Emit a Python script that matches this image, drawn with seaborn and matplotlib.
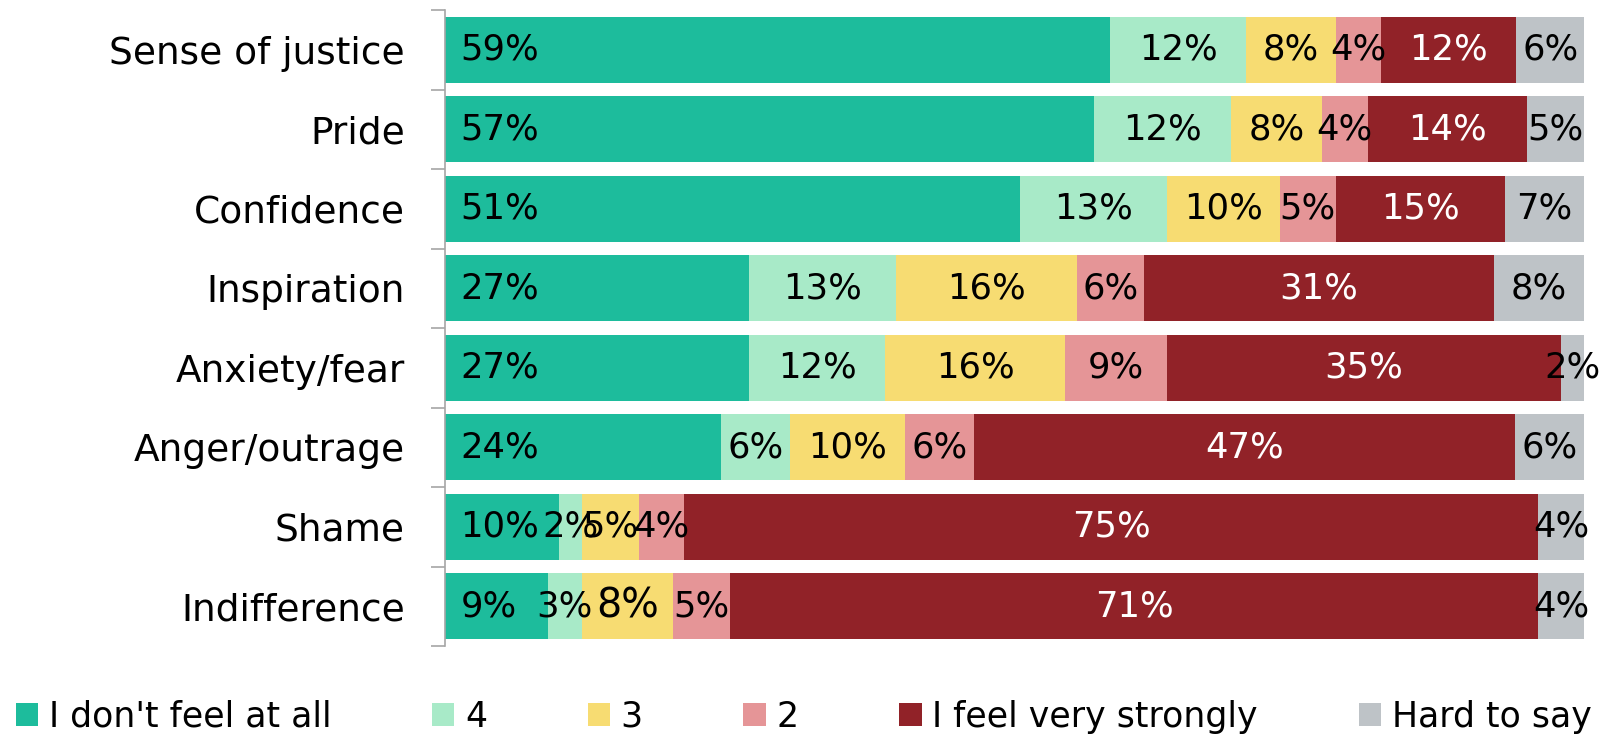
import numpy as np
import pandas as pd
import matplotlib
matplotlib.use('Agg')
import matplotlib.pyplot as plt
import seaborn as sns
from matplotlib.patches import Patch

#data
emotions = ['Sense of justice', 'Pride', 'Confidence', 'Inspiration',
            'Anxiety/fear', 'Anger/outrage', 'Shame', 'Indifference']
levels = ["I don't feel at all", '4', '3', '2', 'I feel very strongly', 'Hard to say']
not_at_all = [59, 57, 51, 27, 27, 24, 10, 9]
lvl4 = [12, 12, 13, 13, 12, 6, 2, 3]
lvl3 = [8, 8, 10, 16, 16, 10, 5, 8]
lvl2 = [4, 4, 5, 6, 9, 6, 4, 5]
very_strongly = [12, 14, 15, 31, 35, 47, 75, 71]
hard_to_say = [6, 5, 7, 8, 2, 6, 4, 4]
colors = ['#1DBC9C', '#A8EAC8', '#F7DC72', '#E59597', '#912228', '#BEC3C7']
text_colors = ['black', 'black', 'black', 'black', 'white', 'black']

sns.set_style('white')
plt.rcParams['font.family'] = ['DejaVu Sans']
plt.rcParams['text.color'] = 'black'
plt.rcParams['ytick.color'] = 'black'
plt.rcParams['ytick.labelcolor'] = 'black'

df = pd.DataFrame({'emotion': emotions})
series = [not_at_all, lvl4, lvl3, lvl2, very_strongly, hard_to_say]
for name, vals in zip(levels, series):
    df[name] = vals
vals = df[levels].to_numpy(dtype=float)
# 100% stacked
share = vals / vals.sum(axis=1, keepdims=True) * 100
cum = np.cumsum(share, axis=1)
for i, name in enumerate(levels):
    df['cum_' + name] = cum[:, i]

fig = plt.figure(figsize=(16.07, 7.39), dpi=100)
ax = fig.add_axes([445/1607, 1 - 646/739, (1584-445)/1607, (646-10)/739])

# draw from the full total down so earlier layers sit on top
for i in range(len(levels) - 1, -1, -1):
    sns.barplot(data=df, y='emotion', x='cum_' + levels[i], color=colors[i],
                orient='h', width=0.83, saturation=1, ax=ax, linewidth=0)

ax.set_xlim(0, 100)
ax.set_ylim(7.5, -0.5)
ax.set_xlabel('')
ax.set_ylabel('')
ax.set_xticks([])
sns.despine(ax=ax, left=False, bottom=True)
ax.spines['left'].set_color('#A6A6A6')
ax.spines['left'].set_linewidth(1.2)
ax.set_yticks(np.arange(-0.5, 8, 1), minor=True)
ax.tick_params(axis='y', which='minor', length=10, width=1.2, color='#A6A6A6', left=True)
ax.tick_params(axis='y', which='major', length=0, pad=29, labelsize=27, labelcolor='black')

# data labels
for r in range(len(emotions)):
    for i, name in enumerate(levels):
        start = cum[r, i] - share[r, i]
        fs = 25.5
        if emotions[r] == 'Indifference' and name == '3':
            fs = 28.5
        txt = f'{int(vals[r, i])}%'
        if i == 0:
            ax.annotate(txt, (start, r), xytext=(11, 0), textcoords='offset points',
                        ha='left', va='center', fontsize=fs, color=text_colors[i])
        else:
            ax.text(start + share[r, i] / 2, r, txt, ha='center', va='center',
                    fontsize=fs, color=text_colors[i])

handles = [Patch(facecolor=c, edgecolor='none') for c in colors]
fig.legend(handles, levels, loc='lower center', bbox_to_anchor=(0.5, -0.035),
           ncol=6, frameon=False, fontsize=25, handlelength=0.65, handleheight=0.65,
           handletextpad=0.3, columnspacing=2.9, labelcolor='black')

fig.savefig('out.png', dpi=100)
